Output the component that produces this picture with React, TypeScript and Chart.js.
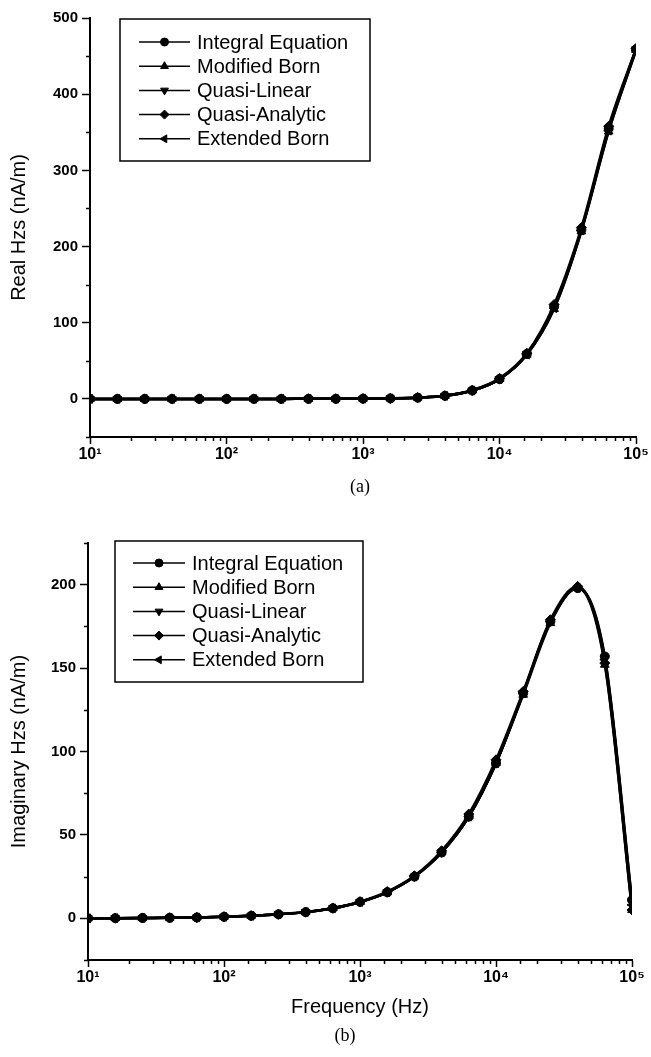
import React, { useEffect, useRef } from 'react';
import { Chart, registerables } from 'chart.js';
import { drawPoint } from 'chart.js/helpers';

Chart.register(...registerables);

// ---------- data ----------
const frequencies = [10, 15.85, 25.12, 39.81, 63.1, 100, 158.5, 251.2, 398.1, 631, 1000, 1585, 2512, 3981, 6310, 10000, 15849, 25119, 39811, 63096, 100000];

const seriesLabels = ['Integral Equation', 'Modified Born', 'Quasi-Linear', 'Quasi-Analytic', 'Extended Born'];

const realIntegral = [0, 0, 0, 0, 0, 0, 0, 0, 0.1, 0.1, 0.3, 0.7, 1.6, 4, 11, 26, 59, 121, 222, 355, 459];
const realModified = [0, 0, 0, 0, 0, 0, 0, 0, 0.1, 0.1, 0.3, 0.7, 1.6, 4, 11, 26, 58, 118, 220, 351, 458];
const realQuasiLinear = [0, 0, 0, 0, 0, 0, 0, 0, 0.1, 0.1, 0.3, 0.7, 1.6, 4, 11, 26, 59, 121, 222, 355, 459];
const realQuasiAnalytic = [0, 0, 0, 0, 0, 0, 0, 0, 0.1, 0.1, 0.3, 0.7, 1.7, 4.2, 11.5, 27, 60, 124, 225, 358, 460];
const realExtended = [0, 0, 0, 0, 0, 0, 0, 0, 0.1, 0.1, 0.3, 0.7, 1.6, 4, 11, 26, 58, 119, 221, 352, 457];

const imagIntegral = [0, 0.1, 0.2, 0.3, 0.5, 0.9, 1.5, 2.4, 3.7, 6, 9.8, 15.6, 25, 39.5, 61, 93, 135, 178, 198, 157, 11];
const imagModified = [0, 0.1, 0.2, 0.3, 0.5, 0.9, 1.5, 2.4, 3.7, 6, 9.8, 15.6, 25, 39.5, 61, 93, 134, 177, 198, 152, 5];
const imagQuasiLinear = [0, 0.1, 0.2, 0.3, 0.5, 0.9, 1.5, 2.4, 3.7, 6, 9.8, 15.6, 25, 39.5, 61, 93, 135, 178, 198, 156, 10];
const imagQuasiAnalytic = [0, 0.1, 0.2, 0.3, 0.5, 0.9, 1.5, 2.5, 3.8, 6.2, 10, 16, 25.5, 40.5, 62.5, 95, 136, 179, 199, 153, 5];
const imagExtended = [0, 0.1, 0.2, 0.3, 0.5, 0.9, 1.5, 2.4, 3.7, 6, 9.8, 15.6, 25, 39.5, 61, 93, 135, 178, 198, 155, 8];

const xTickValues = [10, 100, 1000, 10000, 100000];
const xTickLabels = ['10¹', '10²', '10³', '10⁴', '10⁵'];
const realTickValues = [0, 100, 200, 300, 400, 500];
const imagTickValues = [0, 50, 100, 150, 200];

// ---------- styles ----------
const FONT = '"Liberation Sans", Arial, "DejaVu Sans", sans-serif';
const markerStyles = [
  { pointStyle: 'circle', rotation: 0, radius: 4.5 },
  { pointStyle: 'triangle', rotation: 0, radius: 5 },
  { pointStyle: 'triangle', rotation: 180, radius: 5 },
  { pointStyle: 'rectRot', rotation: 0, radius: 5 },
  { pointStyle: 'triangle', rotation: 270, radius: 5 },
];

const isDecade = (v: number) => {
  const e = Math.log10(v);
  return Math.abs(e - Math.round(e)) < 1e-6;
};

const boxLegend = {
  id: 'boxLegend',
  afterDraw(chart: any, _args: any, opts: any) {
    const ctx = chart.ctx;
    const { left, top, right, bottom, rowStart, rowGap, lineX0, lineX1, textX } = opts;
    ctx.save();
    ctx.strokeStyle = '#000';
    ctx.fillStyle = '#000';
    ctx.lineWidth = 1.5;
    ctx.strokeRect(left, top, right - left, bottom - top);
    ctx.font = `normal 20px ${FONT}`;
    ctx.textBaseline = 'middle';
    ctx.textAlign = 'left';
    chart.data.datasets.forEach((ds: any, i: number) => {
      const y = top + rowStart + i * rowGap;
      ctx.beginPath();
      ctx.lineWidth = 1.5;
      ctx.moveTo(left + lineX0, y);
      ctx.lineTo(left + lineX1, y);
      ctx.stroke();
      const m = markerStyles[i];
      ctx.lineWidth = 1;
      drawPoint(ctx, { pointStyle: m.pointStyle, rotation: m.rotation, radius: m.radius - 0.5, borderWidth: 1 } as any, left + (lineX0 + lineX1) / 2, y);
      ctx.fillText(ds.label, left + textX, y + 1);
    });
    ctx.restore();
  },
};

const minorTicks = {
  id: 'minorTicks',
  afterDraw(chart: any, _args: any, opts: any) {
    const ctx = chart.ctx;
    const xs = chart.scales.x;
    const ys = chart.scales.y;
    ctx.save();
    ctx.strokeStyle = '#000';
    ctx.lineWidth = 1.5;
    xs.ticks.forEach((t: any) => {
      if (!isDecade(t.value)) {
        const px = Math.round(xs.getPixelForValue(t.value)) + 0.5;
        ctx.beginPath();
        ctx.moveTo(px, xs.top);
        ctx.lineTo(px, xs.top + opts.len);
        ctx.stroke();
      }
    });
    ys.ticks.forEach((t: any) => {
      if (t.value % opts.yMajor !== 0) {
        const py = Math.round(ys.getPixelForValue(t.value)) + 0.5;
        ctx.beginPath();
        ctx.moveTo(ys.right, py);
        ctx.lineTo(ys.right - opts.len, py);
        ctx.stroke();
      }
    });
    ctx.restore();
  },
};

function buildConfig(p: any) {
  const datasets = p.series.map((vals: number[], i: number) => ({
    label: seriesLabels[i],
    data: frequencies.map((f, j) => ({ x: f, y: vals[j] })),
    borderColor: '#000',
    backgroundColor: '#000',
    borderWidth: 2.5,
    pointStyle: markerStyles[i].pointStyle,
    pointRotation: markerStyles[i].rotation,
    pointRadius: markerStyles[i].radius,
    pointBorderWidth: 1,
    cubicInterpolationMode: 'monotone',
    fill: false,
  }));
  const major = p.yMajor;
  return {
    type: 'line',
    data: { datasets },
    plugins: [boxLegend, minorTicks],
    options: {
      responsive: false,
      animation: false,
      devicePixelRatio: 1,
      layout: { padding: p.padding },
      plugins: {
        legend: { display: false },
        tooltip: { enabled: false },
        boxLegend: p.legend,
        minorTicks: { len: 4, yMajor: major },
      },
      scales: {
        x: {
          type: 'logarithmic',
          min: 10,
          max: 100000,
          border: { display: true, color: '#000', width: 2 },
          grid: {
            drawOnChartArea: false,
            drawTicks: true,
            tickLength: 7,
            tickWidth: 1.5,
            tickColor: (c: any) => (c.tick && isDecade(c.tick.value) ? '#000' : 'rgba(0,0,0,0)'),
          },
          ticks: {
            autoSkip: false,
            maxRotation: 0,
            padding: 1,
            color: '#000',
            font: { family: FONT, size: 16, weight: 'bold' },
            callback: (v: any) => {
              const idx = xTickValues.findIndex((t) => Math.abs(t - Number(v)) < 1e-6 * t);
              return idx >= 0 ? xTickLabels[idx] : '';
            },
          },
          title: p.xTitle
            ? { display: true, text: p.xTitle, color: '#000', font: { family: FONT, size: 20 }, padding: { top: 0, bottom: 0 } }
            : { display: false },
          afterFit: (s: any) => { s.height = p.xHeight; },
        },
        y: {
          type: 'linear',
          min: p.yMin,
          max: p.yMax,
          border: { display: true, color: '#000', width: 2 },
          grid: {
            drawOnChartArea: false,
            drawTicks: true,
            tickLength: 8,
            tickWidth: 1.5,
            tickColor: (c: any) => (c.tick && c.tick.value % major === 0 ? '#000' : 'rgba(0,0,0,0)'),
          },
          ticks: {
            stepSize: major / 2,
            autoSkip: false,
            padding: 4,
            color: '#000',
            font: { family: FONT, size: 15, weight: 'bold' },
            callback: (v: any) => (p.yTickValues.includes(Number(v)) ? String(v) : ''),
          },
          title: { display: true, text: p.yTitle, color: '#000', font: { family: FONT, size: 20 }, padding: { top: 7, bottom: 0 } },
          afterFit: (s: any) => { s.width = p.yWidth; },
        },
      },
    },
  };
}

function ChartCanvas(props: { cfg: any; top: number; height: number }) {
  const ref = useRef<HTMLCanvasElement>(null);
  useEffect(() => {
    if (!ref.current) return;
    const chart = new Chart(ref.current, props.cfg);
    return () => chart.destroy();
  }, []);
  return (
    <canvas
      ref={ref}
      width={651}
      height={props.height}
      style={{ position: 'absolute', left: 0, top: props.top, width: 651, height: props.height }}
    />
  );
}

const cfgReal = buildConfig({
  series: [realIntegral, realModified, realQuasiLinear, realQuasiAnalytic, realExtended],
  yMin: -50,
  yMax: 500,
  yMajor: 100,
  yTickValues: realTickValues,
  yTitle: 'Real Hzs (nA/m)',
  xTitle: '',
  padding: { left: 0, top: 18, right: 15, bottom: 23 },
  xHeight: 40,
  yWidth: 90,
  legend: { left: 120, top: 19, right: 370, bottom: 161, rowStart: 23, rowGap: 24.2, lineX0: 19, lineX1: 70, textX: 77 },
});

const cfgImag = buildConfig({
  series: [imagIntegral, imagModified, imagQuasiLinear, imagQuasiAnalytic, imagExtended],
  yMin: -25,
  yMax: 225,
  yMajor: 50,
  yTickValues: imagTickValues,
  yTitle: 'Imaginary Hzs (nA/m)',
  xTitle: 'Frequency (Hz)',
  padding: { left: 0, top: 43, right: 19, bottom: 38 },
  xHeight: 59,
  yWidth: 88,
  legend: { left: 115, top: 41, right: 363, bottom: 182, rowStart: 22, rowGap: 24.2, lineX0: 18, lineX1: 70, textX: 77 },
});

const captionStyle: React.CSSProperties = {
  position: 'absolute',
  transform: 'translate(-50%, -50%)',
  fontFamily: '"Liberation Serif", "Times New Roman", serif',
  fontSize: 18,
  color: '#000',
  whiteSpace: 'nowrap',
};

export default function App() {
  return (
    <div style={{ position: 'absolute', left: 0, top: 0, width: 651, height: 1057, background: '#fff', overflow: 'hidden' }}>
      <ChartCanvas cfg={cfgReal} top={0} height={500} />
      <ChartCanvas cfg={cfgImag} top={500} height={557} />
      <div style={{ ...captionStyle, left: 360, top: 486 }}>(a)</div>
      <div style={{ ...captionStyle, left: 345, top: 1035 }}>(b)</div>
    </div>
  );
}
